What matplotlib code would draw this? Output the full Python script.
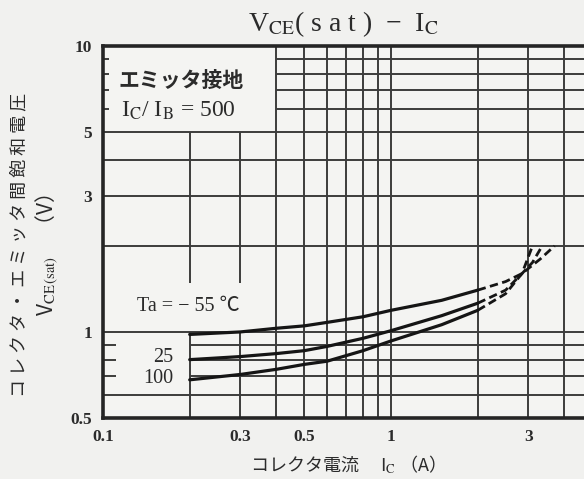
import numpy as np
import matplotlib.pyplot as plt

plt.rcParams['mathtext.fontset'] = 'stix'
plt.rcParams['font.family'] = ['Liberation Serif', 'DejaVu Serif']

# data (Ic in A, Vce(sat) in V)
ic_m55 = [0.2, 0.3, 0.4, 0.5, 0.6, 0.8, 1.0, 1.5, 2.0]
v_m55 = [0.98, 1.00, 1.03, 1.05, 1.08, 1.13, 1.19, 1.29, 1.40]
ic_m55_d = [2.0, 2.5, 2.85, 3.3, 3.7]
v_m55_d = [1.40, 1.50, 1.60, 1.80, 2.0]

ic_25 = [0.2, 0.3, 0.4, 0.5, 0.6, 0.8, 1.0, 1.5, 2.0]
v_25 = [0.80, 0.82, 0.84, 0.86, 0.89, 0.95, 1.01, 1.14, 1.26]
ic_25_d = [2.0, 2.5, 2.85, 3.1, 3.35]
v_25_d = [1.26, 1.40, 1.60, 1.75, 2.0]

ic_100 = [0.2, 0.3, 0.4, 0.5, 0.6, 0.8, 1.0, 1.5, 2.0]
v_100 = [0.68, 0.71, 0.74, 0.77, 0.79, 0.86, 0.93, 1.06, 1.19]
ic_100_d = [2.0, 2.5, 2.85, 3.1]
v_100_d = [1.19, 1.36, 1.60, 2.0]

xticks = [0.1, 0.3, 0.5, 1, 3, 5]
xticklabels = ["0.1", "0.3", "0.5", "1", "3", "5"]
yticks = [0.5, 1, 3, 5, 10]
yticklabels = ["0.5", "1", "3", "5", "10"]

W, H = 584, 479
CJK = ['Noto Sans CJK JP', 'DejaVu Sans']
SERIF_CJK = ['Liberation Serif', 'Noto Sans CJK JP']
INK = '#2b2b2b'
GRID = '#3c3c3c'

fig = plt.figure(figsize=(W / 100, H / 100), dpi=100, facecolor='#f1f1ef')
# axes runs past the right edge of the figure, the scan is cut there
ax = fig.add_axes([103 / W, 61 / H, 576 / W, 372 / H])
ax.set_facecolor('#f4f4f2')
ax.set_xscale('log')
ax.set_yscale('log')
ax.set_xlim(0.1, 10)
ax.set_ylim(0.5, 10)

# grid, with the blank boxes kept free for the notes
glw = 1.4
for x in [0.4, 0.5, 0.6, 0.7, 0.8, 0.9, 1, 2, 3, 4, 5, 6, 7, 8, 9]:
    ax.vlines(x, 0.5, 10, color=GRID, lw=glw, zorder=1)
for x in [0.2, 0.3]:
    ax.vlines(x, 1.48, 5, color=GRID, lw=glw, zorder=1)
    ax.vlines(x, 0.5, 1.0, color=GRID, lw=glw, zorder=1)
for y in [0.6, 1, 2, 3, 4, 5]:
    ax.hlines(y, 0.1, 10, color=GRID, lw=glw, zorder=1)
for y in [6, 7, 8, 9]:
    ax.hlines(y, 0.4, 10, color=GRID, lw=glw, zorder=1)
    ax.hlines(y, 0.1, 0.105, color=GRID, lw=glw, zorder=1)
for y in [0.7, 0.8, 0.9]:
    ax.hlines(y, 0.2, 10, color=GRID, lw=glw, zorder=1)
    ax.hlines(y, 0.1, 0.111, color=GRID, lw=glw, zorder=1)

# curves
for ic, v, icd, vd in [(ic_m55, v_m55, ic_m55_d, v_m55_d),
                       (ic_25, v_25, ic_25_d, v_25_d),
                       (ic_100, v_100, ic_100_d, v_100_d)]:
    ax.plot(ic, v, color='#151515', lw=2.3, solid_capstyle='round', zorder=3)
    ax.plot(icd, vd, color='#151515', lw=2.0, ls=(0, (3, 1.6)), zorder=3)

for s in ['left', 'bottom', 'top']:
    ax.spines[s].set_linewidth(2.6)
    ax.spines[s].set_color('#252525')
ax.spines['right'].set_visible(False)

ax.minorticks_off()
ax.set_xticks(xticks)
ax.set_xticklabels(xticklabels)
ax.set_yticks(yticks)
ax.set_yticklabels(yticklabels)
ax.tick_params(length=0, labelsize=12.5, labelcolor=INK, pad=8)
for t in ax.get_xticklabels() + ax.get_yticklabels():
    t.set_fontweight('bold')

# notes inside the chart
ax.text(0.1135, 7.6, "エミッタ接地", family=CJK, fontsize=15, color=INK,
        va='center', ha='left', fontweight='bold')
ax.text(0.1155, 5.95, r"I$_{\rm C}$/ I$_{\rm B}$ = 500", fontsize=17, color=INK,
        va='center', ha='left')
ax.text(0.131, 1.23, "Ta = − 55 ℃", family=SERIF_CJK, fontsize=14.5, color=INK,
        va='center', ha='left')
ax.text(0.176, 0.815, "25", fontsize=14.5, color=INK, va='center', ha='right')
ax.text(0.176, 0.685, "100", fontsize=14.5, color=INK, va='center', ha='right')

fig.text(343 / W, 1 - 24 / H, r"V$_{\rm CE}$( s a t )  −  I$_{\rm C}$", fontsize=20,
         color=INK, ha='center', va='center')
fig.text(343 / W, 1 - 465 / H, "コレクタ電流　 I$_{\\rm C}$ （A）", family=CJK,
         fontsize=13, color=INK, ha='center', va='center')
fig.text(19 / W, 1 - 245 / H, " ".join("コレクタ・エミッタ間飽和電圧"), family=CJK,
         fontsize=13, color=INK, rotation=90, ha='center', va='center')
fig.text(47 / W, 1 - 255 / H, "V$_{\\rm CE\\,(sat)}$　（V）", family=CJK,
         fontsize=15, color=INK, rotation=90, ha='center', va='center')

fig.savefig("out.png", dpi=100, facecolor=fig.get_facecolor())
